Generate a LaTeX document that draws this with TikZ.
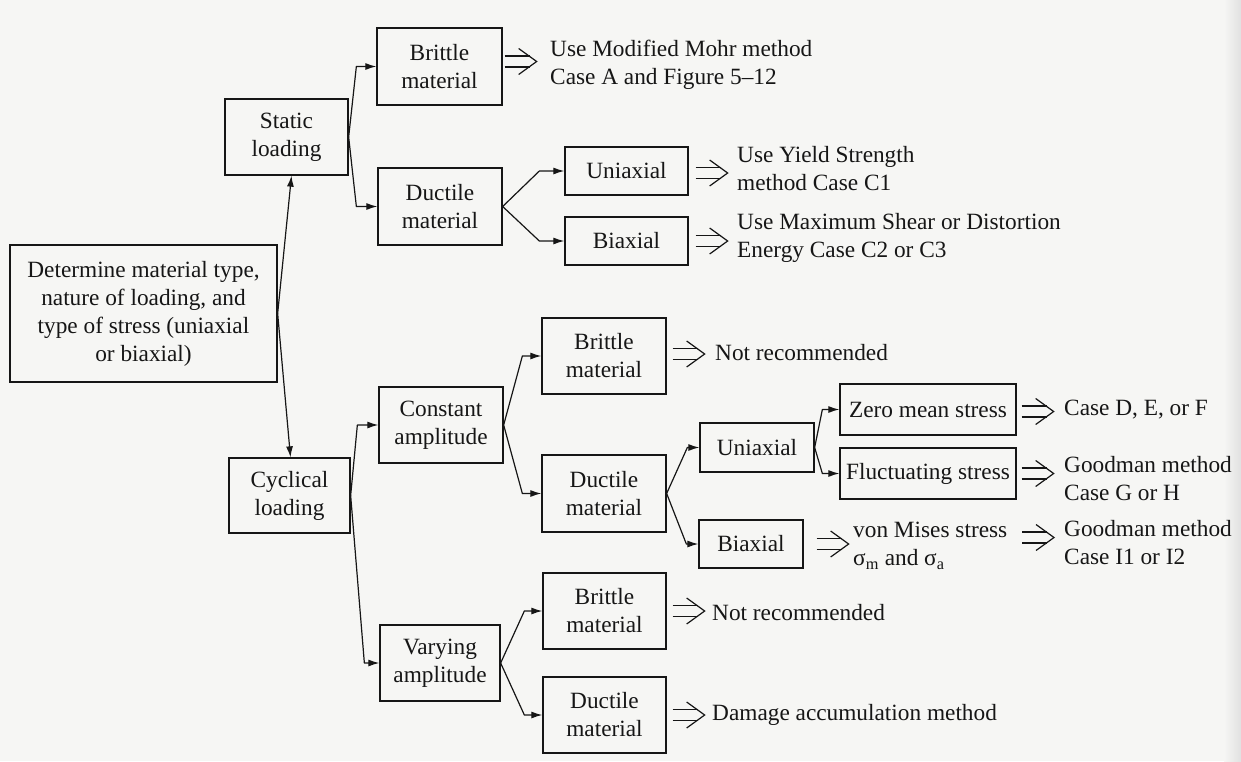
\documentclass[tikz,border=0pt]{standalone}
\usepackage{fontspec}
\setmainfont{Liberation Serif}
\usetikzlibrary{arrows.meta,calc}

\definecolor{ink}{RGB}{22,22,22}
\definecolor{paper}{RGB}{246,246,244}

\begin{document}
\begin{tikzpicture}[x=1pt,y=-1pt,
  every node/.style={font=\fontsize{23.3}{28}\selectfont, text=ink},
  box/.style={draw=ink, line width=1.3pt, inner sep=0pt, align=center},
  res/.style={inner sep=0pt, align=left, anchor=west},
  conn/.style={draw=ink, line width=1.2pt, line join=round, -{Latex[length=11pt,width=7pt]}},
  impl/.pic={
    \draw[ink, line width=1.2pt] (0,-5.5) -- (25,-5.5) (0,5.5) -- (25,5.5);
    \draw[ink, line width=1.2pt, line join=miter] (14,-13) -- (32,0) -- (14,13);
  }]

% page and background
\fill[paper] (0,0) rectangle (1241,761);
\shade[left color=paper, right color=black!12] (1224,0) rectangle (1241,761);
\useasboundingbox (0,0) rectangle (1241,761);

% boxes
\node[box, minimum width=267pt, minimum height=137pt] (main) at (143.5,313.5)
  {Determine material type,\\nature of loading, and\\type of stress (uniaxial\\or biaxial)};
\node[box, minimum width=123pt, minimum height=76pt] (static) at (286.5,137) {Static\\loading};
\node[box, minimum width=125pt, minimum height=77pt] (brit1) at (439.5,66.5) {Brittle\\material};
\node[box, minimum width=124pt, minimum height=77pt] (duct1) at (440,206.5) {Ductile\\material};
\node[box, minimum width=123pt, minimum height=48pt] (uni1) at (626.5,171) {Uniaxial};
\node[box, minimum width=123pt, minimum height=48pt] (bi1) at (626.5,241) {Biaxial};

\node[box, minimum width=121pt, minimum height=75pt] (cyc) at (289.5,495.5) {Cyclical\\loading};
\node[box, minimum width=124pt, minimum height=76pt] (const) at (441,425) {Constant\\amplitude};
\node[box, minimum width=124pt, minimum height=76pt] (brit2) at (604,356) {Brittle\\material};
\node[box, minimum width=124pt, minimum height=77pt] (duct2) at (604,493.5) {Ductile\\material};
\node[box, minimum width=114pt, minimum height=49pt] (uni2) at (757,447.5) {Uniaxial};
\node[box, minimum width=176pt, minimum height=51pt] (zero) at (928,409.5) {Zero mean stress};
\node[box, minimum width=176pt, minimum height=51pt] (fluct) at (928,473.5) {Fluctuating stress};
\node[box, minimum width=104pt, minimum height=48pt] (bi2) at (751,544) {Biaxial};

\node[box, minimum width=120pt, minimum height=76pt] (vary) at (440,663) {Varying\\amplitude};
\node[box, minimum width=123pt, minimum height=76pt] (brit3) at (604.5,611) {Brittle\\material};
\node[box, minimum width=123pt, minimum height=76pt] (duct3) at (604.5,715) {Ductile\\material};

% outcomes
\node[res] (rbrit1) at (550,64.5) {Use Modified Mohr method\\Case A and Figure 5–12};
\node[res] (runi1) at (737,168.5) {Use Yield Strength\\method Case C1};
\node[res] (rbi1) at (737,238) {Use Maximum Shear or Distortion\\Energy Case C2 or C3};
\node[res] (rbrit2) at (715,353) {Not recommended};
\node[res] (rzero) at (1064,410) {Case D, E, or F};
\node[res] (rfluct) at (1064,478.5) {Goodman method\\Case G or H};
\node[res] (rvm) at (853,546) {von Mises stress\\σ\textsubscript{m} and σ\textsubscript{a}};
\node[res] (rgm) at (1064,542.5) {Goodman method\\Case I1 or I2};
\node[res] (rbrit3) at (712,613) {Not recommended};
\node[res] (rduct3) at (712,715) {Damage accumulation method};

% implication arrows
\pic at ($(brit1.east)+(2,-5)$) {impl};
\pic at ($(uni1.east)+(7,2)$) {impl};
\pic at ($(bi1.east)+(7,0)$) {impl};
\pic at ($(brit2.east)+(6,-2)$) {impl};
\pic at ($(zero.east)+(5,2)$) {impl};
\pic at ($(fluct.east)+(5,0)$) {impl};
\pic at ($(bi2.east)+(13,0)$) {impl};
\pic at ($(rgm.west)+(-42,-5)$) {impl};
\pic at ($(brit3.east)+(6,0)$) {impl};
\pic at ($(duct3.east)+(6,0)$) {impl};

% branches
\draw[conn] (main.east) -- ($(static.south)+(5,0)$);
\draw[conn] (main.east) -- ($(cyc.north)+(1,0)$);

\draw[conn] (static.east) -- ($(brit1.west)+(-20,0)$) -- (brit1.west);
\draw[conn] (static.east) -- ($(duct1.west)+(-21,0)$) -- (duct1.west);
\draw[conn] (duct1.east) -- ($(uni1.west)+(-25,0)$) -- (uni1.west);
\draw[conn] (duct1.east) -- ($(bi1.west)+(-25,0)$) -- (bi1.west);

\draw[conn] (cyc.east) -- ($(const.west)+(-21,0)$) -- (const.west);
\draw[conn] (cyc.east) -- ($(vary.west)+(-15,0)$) -- (vary.west);
\draw[conn] (const.east) -- ($(brit2.west)+(-19,0)$) -- (brit2.west);
\draw[conn] (const.east) -- ($(duct2.west)+(-19,0)$) -- (duct2.west);
\draw[conn] (duct2.east) -- ($(uni2.west)+(-12,0)$) -- (uni2.west);
\draw[conn] (duct2.east) -- ($(bi2.west)+(-12,0)$) -- (bi2.west);
\draw[conn] (uni2.east) -- ($(zero.west)+(-17,0)$) -- (zero.west);
\draw[conn] (uni2.east) -- ($(fluct.west)+(-17,0)$) -- (fluct.west);
\draw[conn] (vary.east) -- ($(brit3.west)+(-18,0)$) -- (brit3.west);
\draw[conn] (vary.east) -- ($(duct3.west)+(-18,0)$) -- (duct3.west);
\end{tikzpicture}
\end{document}
